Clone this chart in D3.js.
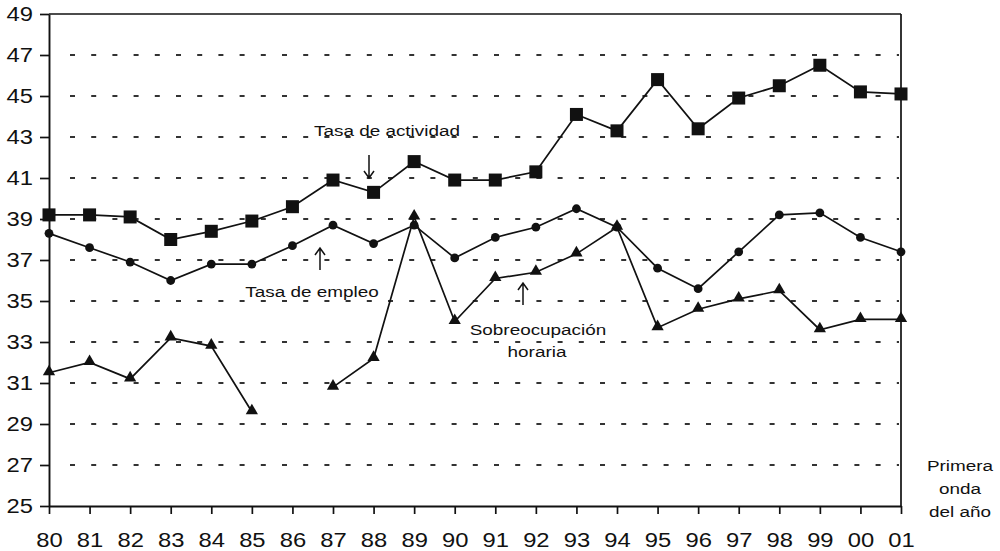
<!DOCTYPE html>
<html><head><meta charset="utf-8">
<script src="https://cdn.jsdelivr.net/npm/d3@7/dist/d3.min.js"></script>
<style>
body{margin:0;background:#fff;}
svg{display:block;font-family:"Liberation Sans",Arial,sans-serif;}
</style></head>
<body><svg id="c" width="1000" height="551"></svg>
<script>
const years = ["80","81","82","83","84","85","86","87","88","89","90","91","92","93","94","95","96","97","98","99","00","01"];
const actividad = [39.2,39.2,39.1,38.0,38.4,38.9,39.6,40.9,40.3,41.8,40.9,40.9,41.3,44.1,43.3,45.8,43.4,44.9,45.5,46.5,45.2,45.1];
const empleo = [38.3,37.6,36.9,36.0,36.8,36.8,37.7,38.7,37.8,38.7,37.1,38.1,38.6,39.5,38.6,36.6,35.6,37.4,39.2,39.3,38.1,37.4];
const sobreocupacion = [31.5,32.0,31.2,33.2,32.8,29.6,null,30.8,32.2,39.1,34.0,36.1,36.4,37.3,38.6,33.7,34.6,35.1,35.5,33.6,34.1,34.1];
const yTicks = [25,27,29,31,33,35,37,39,41,43,45,47,49];
const gridValues = [27,29,31,33,35,37,39,41,43,45,47];

const SX = 1.22;
const svg = d3.select("#c");
const L = 49, R = 901, T = 14, B = 506;
const x = d3.scalePoint().domain(years).range([L, R]).padding(0);
const y = d3.scaleLinear().domain([25, 49]).range([B, T]);
const ink = "#111";

// gridlines
svg.append("g").selectAll("line").data(gridValues).join("line")
  .attr("x1", 70).attr("x2", 899)
  .attr("y1", d => y(d)).attr("y2", d => y(d))
  .attr("stroke", "#333").attr("stroke-width", 1.8)
  .attr("stroke-dasharray", "5,16.2");

// frame
svg.append("line").attr("x1", L).attr("x2", R).attr("y1", T).attr("y2", T).attr("stroke", ink).attr("stroke-width", 1.7);
svg.append("line").attr("x1", R).attr("x2", R).attr("y1", T).attr("y2", B).attr("stroke", ink).attr("stroke-width", 1.7);

// axes
const yAxis = svg.append("g").attr("transform", `translate(${L},0)`)
  .call(d3.axisLeft(y).tickValues(yTicks).tickSize(9).tickPadding(7).tickSizeOuter(0));
const xAxis = svg.append("g").attr("transform", `translate(0,${B})`)
  .call(d3.axisBottom(x).tickSize(8).tickPadding(15).tickSizeOuter(0));
[yAxis, xAxis].forEach(a => {
  a.select(".domain").attr("stroke", ink).attr("stroke-width", 1.9);
  a.selectAll(".tick line").attr("stroke", ink).attr("stroke-width", 1.7);
  a.selectAll(".tick text").attr("fill", ink).attr("font-size", 19.5)
    .attr("font-family", "Liberation Sans, Arial, sans-serif");
});
yAxis.selectAll(".tick text").attr("x", -16 / SX).attr("transform", `scale(${SX},1)`);
xAxis.selectAll(".tick text").attr("transform", `scale(${SX},1)`).attr("dy", "0.9em");

// lines
const line = d3.line().defined(d => d[1] != null).x(d => x(d[0])).y(d => y(d[1]));
const series = [
  {vals: actividad, shape: "square"},
  {vals: empleo, shape: "circle"},
  {vals: sobreocupacion, shape: "triangle"}
];
series.forEach(s => {
  const pts = years.map((yr, i) => [yr, s.vals[i]]);
  svg.append("path").datum(pts).attr("d", line)
    .attr("fill", "none").attr("stroke", ink).attr("stroke-width", 1.7);
  const g = svg.append("g");
  const valid = pts.filter(d => d[1] != null);
  if (s.shape === "square") {
    g.selectAll("rect").data(valid).join("rect")
      .attr("x", d => x(d[0]) - 6.5).attr("y", d => y(d[1]) - 6.5)
      .attr("width", 13).attr("height", 13).attr("fill", ink);
  } else if (s.shape === "circle") {
    g.selectAll("circle").data(valid).join("circle")
      .attr("cx", d => x(d[0])).attr("cy", d => y(d[1])).attr("r", 4.4).attr("fill", ink);
  } else {
    g.selectAll("path").data(valid).join("path")
      .attr("d", d3.symbol().type(d3.symbolTriangle).size(65))
      .attr("transform", d => `translate(${x(d[0])},${y(d[1]) - 1})`).attr("fill", ink);
  }
});

// annotations
function label(txt, cx, base, size) {
  svg.append("text").attr("transform", `translate(${cx},${base}) scale(${SX},1)`)
    .attr("text-anchor", "middle").attr("font-size", size || 15.5).attr("fill", ink).text(txt);
}
label("Tasa de actividad", 387, 136);
label("Tasa de empleo", 312, 297);
label("Sobreocupación", 538, 335);
label("horaria", 537, 357);
label("Primera", 960, 471);
label("onda", 960, 494);
label("del año", 960, 517);

function arrow(xp, yTip, yTail) {
  const dir = yTip > yTail ? -1 : 1;
  svg.append("path")
    .attr("d", `M${xp},${yTail}L${xp},${yTip}M${xp - 5},${yTip + dir * 7}L${xp},${yTip}L${xp + 5},${yTip + dir * 7}`)
    .attr("fill", "none").attr("stroke", ink).attr("stroke-width", 1.5);
}
arrow(369, 178, 155);
arrow(320, 248, 270);
arrow(523, 283, 305);
</script>
</body></html>
